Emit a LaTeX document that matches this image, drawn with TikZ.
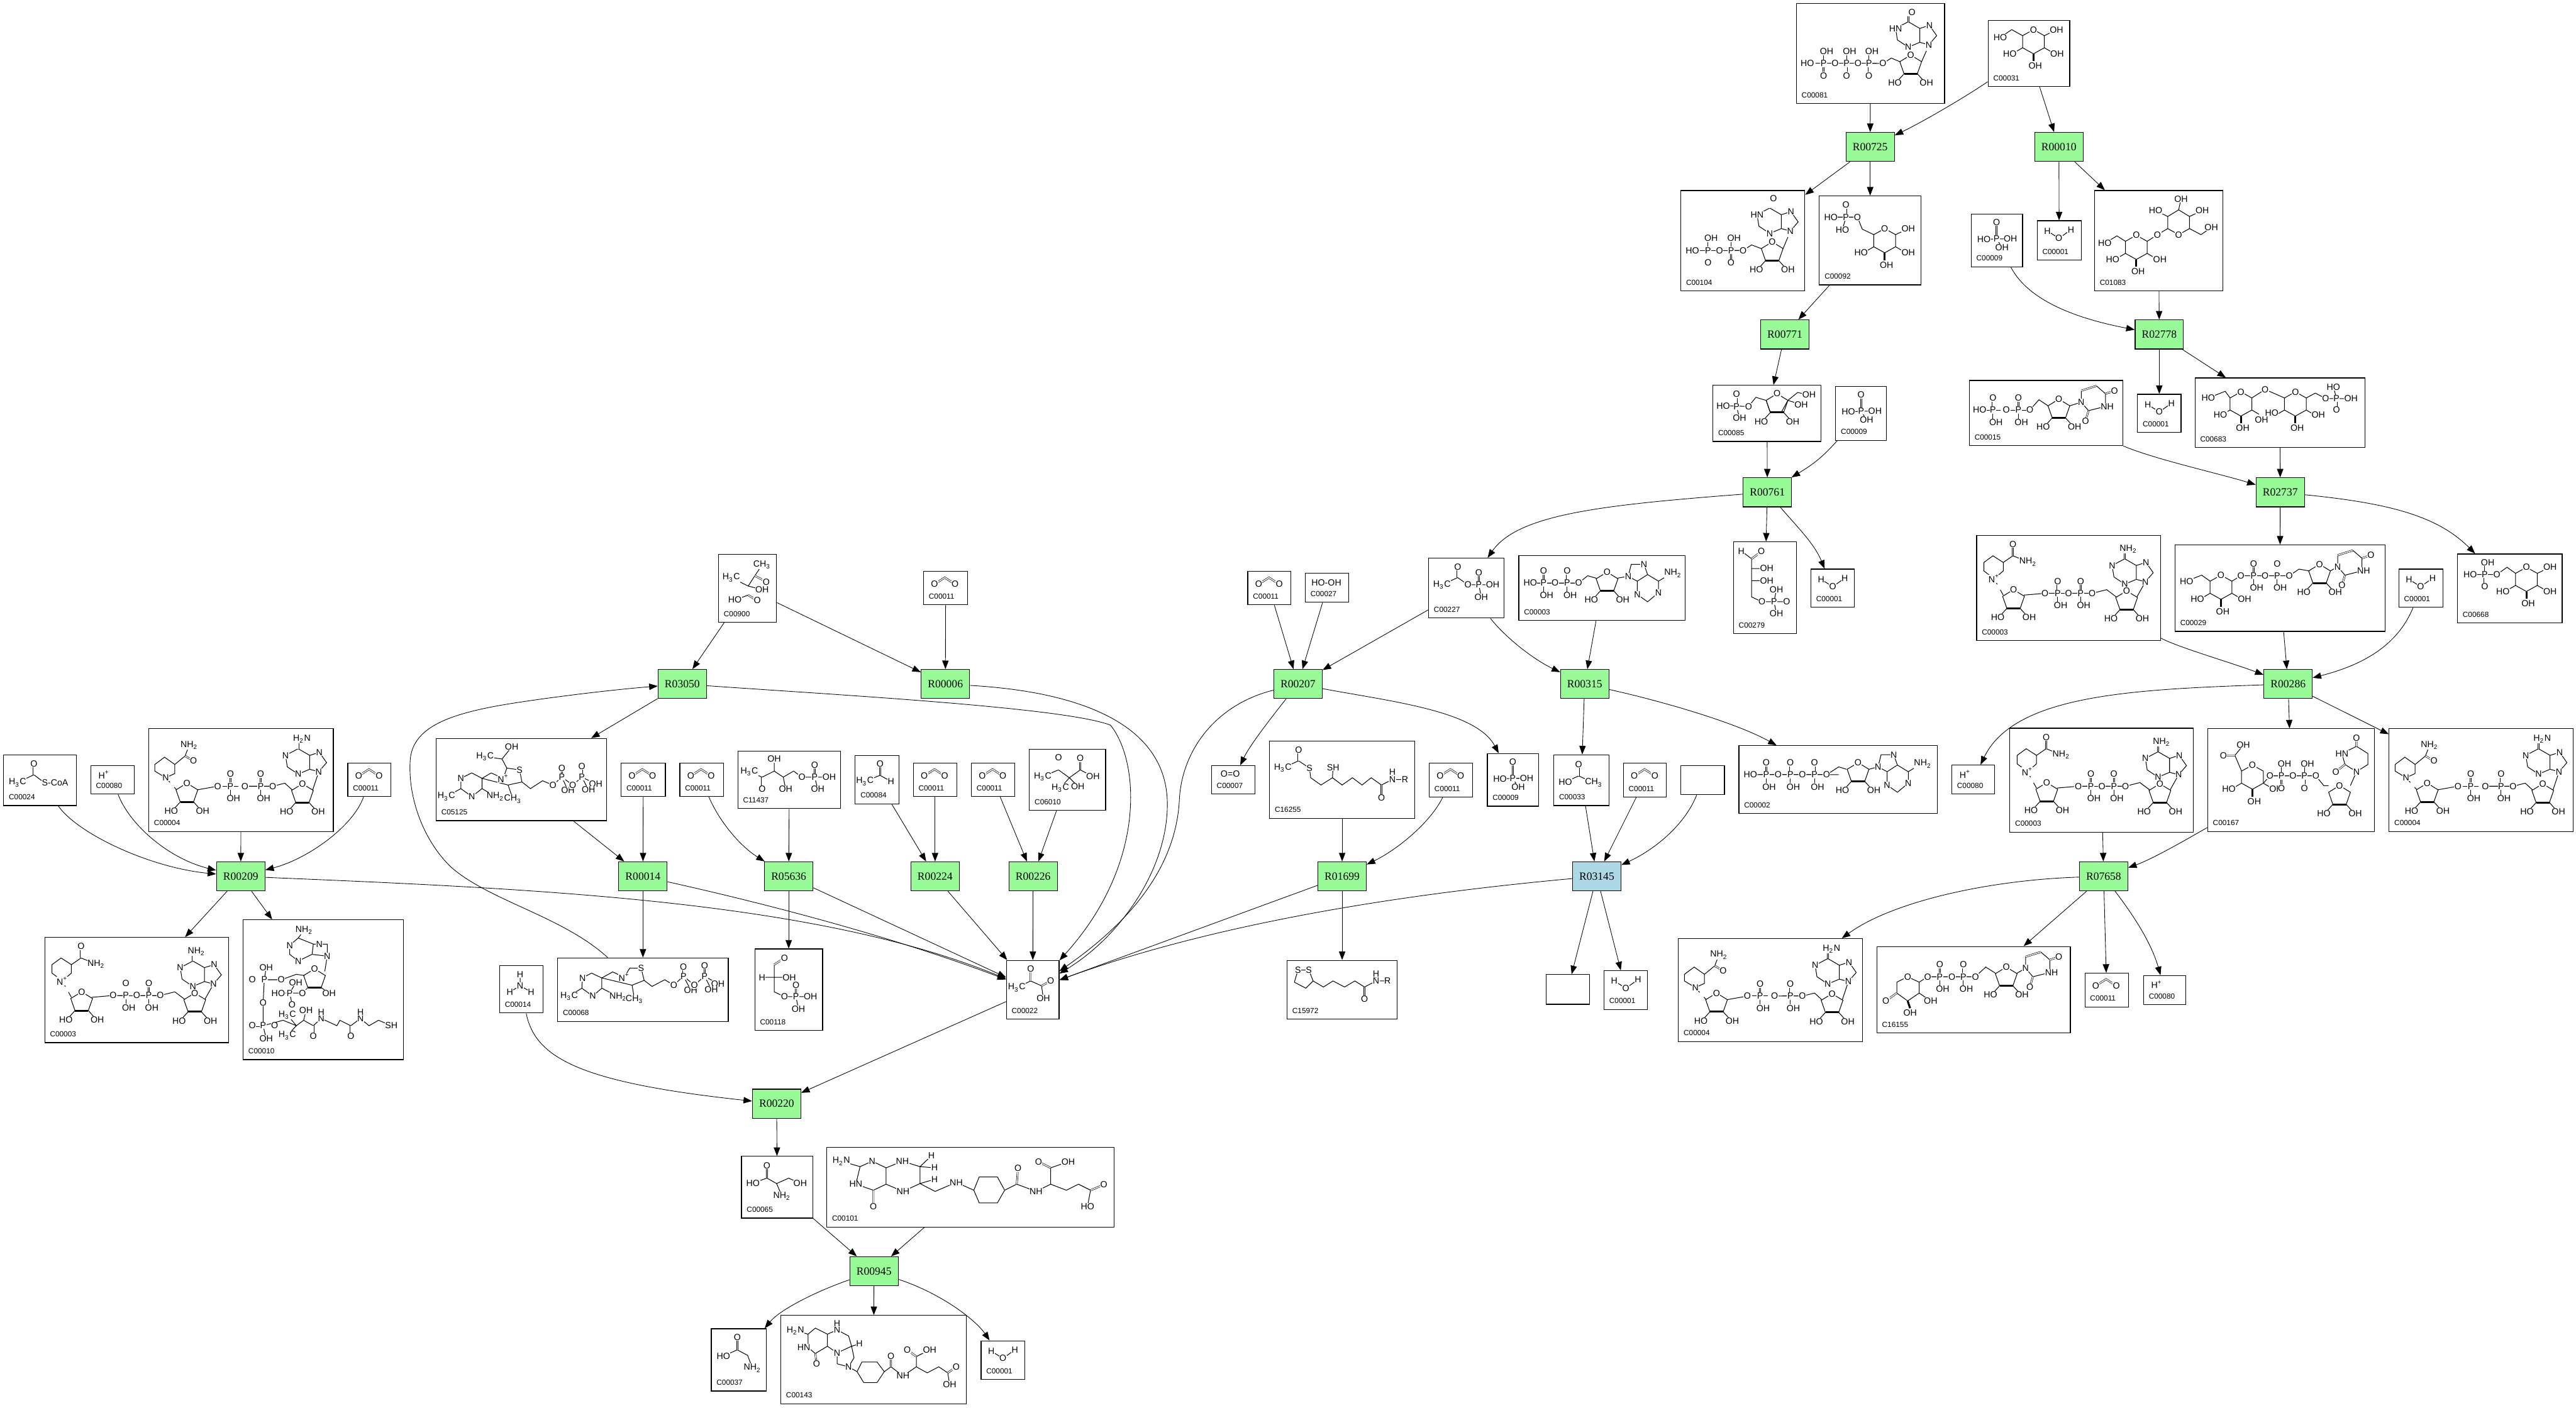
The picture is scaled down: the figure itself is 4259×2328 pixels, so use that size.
\documentclass[tikz,border=0pt]{standalone}
\usepackage{fontspec}
\setmainfont{Liberation Serif}
\newfontfamily\atomfont{Liberation Sans}
\usetikzlibrary{arrows.meta}

\newcommand{\two}{\textsubscript{2}}
\newcommand{\three}{\textsubscript{3}}
\newcommand{\atoms}[1]{\foreach \ax/\ay/\atxt in {#1}{\node[atom] (a\ax-\ay) at (\ax,\ay) {\atxt};}}

% compound box: name, left, top, right, bottom, label, structure
\newcommand{\cmpd}[7]{%
  \node[cpd, minimum width={(#4-#2)*0.01cm}, minimum height={(#5-#3)*0.01cm}] (#1) at ({(#2+#4)/2},{(#3+#5)/2}) {};
  \node[clabel] (#1l) at ({#2+8},{#5-14}) {#6};
  \pic at (#2,#3) {#7};
}
% reaction box: name, centre x, centre y
\newcommand{\reac}[3]{\node[rbox] (#1) at (#2,#3) {\MakeUppercase{#1}};}

% five ring, centre at the origin
\newcommand{\furo}[2]{\begin{scope}[shift={(#1,#2)}]
  \draw[bond] (-11,12)--(-18,-8)--(0,-19)--(18,-8)--(11,12);
  \draw[wedge] (-11,12)--(11,12);
  \atoms{0/-19/O}
\end{scope}}
\newcommand{\fur}[2]{\furo{#1}{#2}\begin{scope}[shift={(#1,#2)}]
  \draw[bond] (-11,12)--(-20,22) (11,12)--(20,22);
  \atoms{-26/27/HO,26/27/OH}
\end{scope}}
% six ring sugar, the optional list holds the two side groups
\newcommand{\pyran}[3][-39/20/HO,39/20/OH]{\begin{scope}[shift={(#2,#3)}]
  \draw[bond] (0,-20)--(18,-10)--(18,10)--(0,20)--(-18,10)--(-18,-10)--cycle (18,10)--(30,17) (-18,10)--(-30,17);
  \draw[wedge] (0,20)--(0,32);
  \atoms{0/-20/O,3/40/OH,#1}
\end{scope}}
% purine, N9 at the origin
\newcommand{\purine}[4]{\begin{scope}[shift={(#1,#2)}]
  \draw[bond] (0,0)--(13,-15)--(1,-32)--(-15,-27)--(-15,-4)--cycle (-15,-4)--(-34,4)--(-52,-8)--(-55,-27)--(-34,-38)--(-15,-27);
  \draw[dbl] (-34,-38)--(-34,-47);
  \atoms{0/0/N,1/-32/N,-34/4/N,-55/-27/#4,-28/-54/#3}
\end{scope}}
% purine drawn lying to the right of N9
\newcommand{\purinb}[2]{\begin{scope}[shift={(#1,#2)}]
  \draw[bond] (0,0)--(5,-20)--(26,-20)--(32,-3)--(15,8)--cycle (15,8)--(15,30)--(32,42)--(50,27)--(50,8)--(32,-3) (50,8)--(68,-3);
  \atoms{0/0/N,26/-20/N,15/30/N,50/27/N,74/-5/NH\two}
\end{scope}}
% uracil, N1 at the origin
\newcommand{\uracil}[2]{\begin{scope}[shift={(#1,#2)}]
  \draw[bond] (0,0)--(0,-19) (25,-27)--(40,-14)--(40,7)--(12,14)--(0,0);
  \draw[dbl] (0,-19)--(25,-27) (40,-14)--(55,-19) (12,14)--(7,31);
  \atoms{0/0/N,55/-19/O,43/7/NH,7/31/O}
\end{scope}}
% phosphorus with its two side groups, s=1: O below, s=-1: O above
\newcommand{\phos}[3]{%
  \draw[bond] (#1-13,#2)--(#1+13,#2) (#1,{#2-#3*6})--(#1,{#2-#3*14});
  \draw[dbl] (#1,{#2+#3*6})--(#1,{#2+#3*14});
  \node[atom] (p#1t) at (#1,#2) {P};
  \node[atom] (p#1o) at (#1,{#2+#3*20}) {O};
  \node[atom] (p#1h) at (#1+5,{#2-#3*20}) {OH};
}

\tikzset{
  molco/.pic={
    \draw[dbl] (18,21)--(35,10)--(52,21);
    \atoms{18/21/O,52/21/O}
  },
  molwater/.pic={
    \draw[bond] (17,17)--(36,29)--(56,15);
    \atoms{17/17/H,36/29/O,56/15/H}
  },
  molh/.pic={\atoms{22/15/H\textsuperscript{+}}},
  molpi/.pic={
    \draw[dbl] (42,14)--(42,41);
    \draw[bond] (21,42)--(42,41)--(65,41) (42,41)--(51,55);
    \atoms{42/14/O,42/41/P,21/42/HO,65/41/OH,51/55/OH}
  },
  moloo/.pic={\atoms{31/14/O=O}},
  molhooh/.pic={\atoms{35/15/HO-OH}},
  molnh/.pic={
    \draw[bond] (34,14)--(34,33)--(17,43) (34,33)--(52,43);
    \atoms{34/14/H,34/33/N,17/43/H,52/43/H}
  },
  molnad/.pic={
    \draw[bond] (29,72)--(12,59)--(12,45)--(27,34)--(44,45)--(44,59)--cycle (44,45)--(60,34)--(85,44) (78,99)--(113,96)--(134,96) (152,96)--(191,96)--(215,90)--(231,102) (265,102)--(279,77);
    \draw[dbl] (60,34)--(60,15);
    \draw[bond,dashed] (29,72)--(44,99);
    \fur{61}{109} \fur{248}{111}
    \phos{134}{96}{-1} \phos{172}{96}{-1}
    \purine{279}{77}{NH\two}{N}
    \atoms{29/72/N\textsuperscript{+},60/15/O,85/44/NH\two,113/96/O,152/96/O,191/96/O}
  },
  molnadh/.pic={
    \draw[bond] (28,81)--(10,70)--(10,59)--(26,47)--(43,59)--(43,74)--cycle (43,59)--(60,45)--(67,27) (80,101)--(114,95) (159,95)--(205,95)--(225,90)--(237,101) (271,101)--(281,71);
    \draw[dbl] (60,45)--(74,53);
    \draw[bond,dashed] (28,81)--(46,101);
    \fur{63}{109} \fur{254}{110}
    \phos{135}{95}{-1} \phos{185}{95}{-1}
    \purine{281}{71}{H\two N}{N}
    \atoms{28/81/N,74/53/O,67/27/NH\two,114/95/O,159/95/O,205/95/O}
  },
  molatp/.pic={
    \draw[bond] (19,48)--(165,48) (145,48)--(165,35)--(178,39);
    \draw[bond] (215,39)--(230,35);
    \fur{197}{47}
    \phos{45}{48}{-1} \phos{85}{48}{-1} \phos{125}{48}{-1}
    \purinb{230}{35}
    \atoms{19/48/HO,65/48/O,105/48/O,145/48/O}
  },
  moladp/.pic={
    \draw[bond] (19,45)--(99,45)--(114,33)--(128,37) (163,37)--(181,34);
    \fur{146}{46}
    \phos{41}{45}{-1} \phos{80}{45}{-1}
    \purinb{181}{34}
    \atoms{19/45/HO,60/45/O,99/45/O}
  },
  molino/.pic={
    \draw[bond] (125,99)--(143,99)--(157,90)--(171,96) (207,96)--(215,78);
    \fur{189}{104}
    \phos{45}{99}{1} \phos{83}{99}{1} \phos{120}{99}{1}
    \purine{219}{68}{O}{HN}
    \atoms{18/99/HO,64/99/O,102/99/O,143/99/O}
  },
  molidp/.pic={
    \draw[bond] (85,99)--(103,99)--(117,90)--(133,96) (169,96)--(177,77);
    \fur{151}{104}
    \phos{45}{99}{1} \phos{83}{99}{1}
    \purine{181}{67}{O}{HN}
    \atoms{19/99/HO,64/99/O,103/99/O}
  },
  molglc/.pic={
    \draw[bond] (57,25)--(39,15)--(20,28) (93,25)--(113,15);
    \pyran{75}{35}
    \atoms{20/28/HO,113/15/OH}
  },
  molgsp/.pic={
    \draw[bond] (90,64)--(71,55)--(63,35)--(19,35) (44,35)--(38,56) (126,64)--(147,54);
    \draw[dbl] (44,35)--(44,15);
    \pyran{108}{74}
    \atoms{63/35/O,44/35/P,44/15/O,19/35/HO,38/56/HO,147/54/OH}
  },
  moltre/.pic={
    \draw[bond] (139,32)--(157,43)--(157,63)--(139,73)--(121,63)--(121,43)--cycle (157,63)--(176,73)--(193,61) (121,63)--(104,73)--(87,84) (51,84)--(37,75)--(17,87) (157,43)--(178,33) (121,43)--(101,33) (139,32)--(143,14);
    \pyran{69}{94}
    \atoms{139/73/O,104/73/O,17/87/HO,143/14/OH,101/33/HO,178/33/OH,193/61/OH}
  },
  molfsp/.pic={
    \draw[bond] (17,34)--(59,35)--(71,20)--(88,25) (39,35)--(44,54) (124,25)--(146,32) (124,25)--(140,12)--(159,16);
    \draw[bond] (88,25)--(94,43) (124,25)--(114,43);
    \draw[dbl] (39,35)--(39,15);
    \fur{106}{33}
    \atoms{59/35/O,39/35/P,17/34/HO,39/15/O,44/54/OH,146/32/OH,159/16/OH}
  },
  moludp/.pic={
    \draw[bond] (100,49)--(115,32)--(130,42) (166,42)--(185,36);
    \fur{148}{50}
    \phos{39}{49}{-1} \phos{81}{49}{-1}
    \uracil{185}{36}
    \atoms{17/49/HO,61/49/O,100/49/O}
  },
  moltsp/.pic={
    \draw[bond] (58,33)--(50,22)--(22,33) (94,33)--(116,19)--(148,33) (184,33)--(199,25)--(216,34)--(258,34) (234,34)--(229,15);
    \draw[dbl] (234,34)--(234,53);
    \pyran[-34/18/HO,34/26/OH]{76}{43} \pyran[-39/15/HO,38/18/OH]{166}{43}
    \atoms{22/33/HO,116/19/O,216/34/O,234/34/P,258/34/OH,229/15/HO,234/53/O}
  },
  molugl/.pic={
    \draw[bond] (44,50)--(19,60) (58,60)--(44,50) (94,60)--(109,51)--(189,51)--(205,40)--(222,43) (257,43)--(269,36);
    \fur{239}{51} \pyran{76}{70}
    \phos{130}{51}{-1} \phos{169}{51}{-1}
    \uracil{269}{36}
    \atoms{19/60/HO,109/51/O,149/51/O,189/51/O}
  },
  molgpb/.pic={
    \draw[bond] (96,32)--(82,22)--(65,34)--(21,34) (132,32)--(153,22);
    \pyran{114}{42}
    \phos{45}{34}{1}
    \atoms{65/34/O,21/34/HO,153/22/OH}
  },
  molugc/.pic={
    \draw[bond] (56,70)--(45,44)--(59,27) (92,90)--(103,78)--(179,78)--(192,94)--(200,94) (236,94)--(246,71) (246,71)--(265,59)--(265,41)--(246,29)--(222,41)--(227,59)--cycle;
    \draw[dbl] (45,44)--(26,44) (246,29)--(246,15) (227,59)--(212,71);
    \fur{218}{113} \pyran{74}{80}
    \phos{122}{78}{1} \phos{160}{78}{1}
    \atoms{26/44/O,59/27/OH,103/78/O,141/78/O,179/78/O,246/71/N,222/41/HN,246/15/O,212/71/O}
  },
  molukp/.pic={
    \draw[bond] (51,50)--(70,59)--(70,77)--(51,90)--(33,77)--(33,59)--cycle (70,77)--(89,90) (70,59)--(84,50)--(163,50)--(180,34)--(196,44) (232,44)--(246,36);
    \draw[dbl] (33,77)--(15,90);
    \draw[wedge] (51,90)--(55,102);
    \fur{214}{53}
    \phos{104}{50}{-1} \phos{143}{50}{-1}
    \uracil{246}{36}
    \atoms{51/50/O,15/90/O,89/90/OH,55/110/OH,84/50/O,124/50/O,163/50/O}
  },
  moleph/.pic={
    \draw[bond] (13,15)--(30,28)--(30,91)--(47,99)--(88,99) (30,44)--(55,44) (30,64)--(55,64) (67,99)--(71,79) (67,99)--(71,118);
    \draw[dbl] (30,28)--(46,16);
    \atoms{13/15/H,46/16/O,55/44/OH,55/64/OH,47/99/O,67/99/P,88/99/O,71/79/OH,71/118/OH}
  },
  molacp/.pic={
    \draw[bond] (22,44)--(48,32)--(65,44)--(106,44) (83,44)--(87,64);
    \draw[dbl] (48,32)--(48,14) (83,44)--(83,24);
    \atoms{22/44/H\three C,48/14/O,65/44/O,83/44/P,83/24/O,106/44/OH,87/64/OH}
  },
  moldht/.pic={
    \draw[bond] (22,45)--(48,33)--(66,45)--(68,61)--(85,73)--(104,61)--(120,73)--(137,61)--(153,73)--(168,61)--(185,73)--(203,64)--(224,64) (104,61)--(105,44) (203,64)--(203,51);
    \draw[dbl] (48,33)--(48,15) (185,73)--(185,94);
    \atoms{22/45/H\three C,48/15/O,66/45/S,105/44/SH,185/94/O,203/64/N,203/51/H,224/64/R}
  },
  mollip/.pic={
    \draw[bond] (18,16)--(36,16)--(43,34)--(31,46)--(12,36)--cycle (43,34)--(60,44)--(76,34)--(95,44)--(112,34)--(128,44)--(147,34)--(166,34) (147,34)--(147,22);
    \draw[dbl] (128,44)--(128,64);
    \atoms{18/16/S,36/16/S,128/64/O,147/34/N,147/22/H,166/34/R}
  },
  molace/.pic={
    \draw[bond] (19,45)--(41,35)--(66,46);
    \draw[dbl] (41,16)--(41,35);
    \atoms{41/16/O,19/45/HO,66/46/CH\three}
  },
  molacoa/.pic={
    \draw[bond] (23,46)--(50,33)--(67,46)--(85,46);
    \draw[dbl] (50,33)--(50,15);
    \atoms{23/46/H\three C,50/15/O,85/46/S-CoA}
  },
  molcoa/.pic={
    \draw[bond] (77,42)--(91,30)--(116,40)--(114,57)--(91,68)--(77,57)--cycle (116,40)--(126,40)--(139,40)--(139,60)--(114,57) (91,30)--(101,17) (139,60)--(135,85) (101,92)--(88,90)--(63,99)--(35,99)--(38,79) (35,99)--(33,137)--(33,175)--(38,196) (107,112)--(98,121)--(58,121) (129,112)--(142,121) (77,121)--(81,140) (77,121)--(87,104) (33,175)--(66,166)--(88,175)--(100,166)--(116,175)--(129,163)--(155,175)--(160,166)--(178,175)--(194,163)--(208,175)--(224,166)--(245,175) (88,175)--(73,157) (88,175)--(73,191) (100,166)--(104,150) (129,163)--(129,153) (194,163)--(194,153);
    \draw[dbl] (15,99)--(35,99) (15,175)--(33,175) (116,175)--(116,192) (178,175)--(178,192);
    \furo{118}{100}
    \atoms{77/42/N,126/40/N,139/60/N,91/68/N,101/17/NH\two,63/99/O,15/99/O,35/99/P,38/79/OH,33/137/O,98/121/O,77/121/P,58/121/HO,87/104/OH,142/121/OH,81/140/O,15/175/O,33/175/P,52/175/O,38/196/OH,73/157/H\three C,73/191/H\three C,104/150/OH,116/192/O,129/163/N,129/153/H,178/192/O,194/163/N,194/153/H,245/175/SH}
  },
  molace2/.pic={
    \draw[bond] (21,38)--(49,52)--(60,35)--(72,17) (49,52)--(72,58) (27,75)--(49,67)--(64,76);
    \draw[dbl] (60,35)--(79,45) (49,67)--(64,76);
    \atoms{21/38/H\three C,72/17/CH\three,79/45/O,72/58/OH,27/75/HO,64/76/O}
  },
  moltpp/.pic={
    \draw[bond] (41,66)--(59,57)--(76,66)--(76,83)--(59,96)--(41,83)--cycle (41,83)--(17,96) (76,83)--(98,96) (76,66)--(91,57)--(111,66)--(117,49)--(138,52)--(142,72)--(119,77)--cycle (117,49)--(109,34)--(81,30) (109,34)--(125,14) (119,77)--(127,100) (142,72)--(156,83)--(176,70)--(193,77)--(208,64)--(226,77)--(241,64)--(264,75) (208,64)--(218,86) (241,64)--(252,85);
    \draw[dbl] (208,64)--(208,49) (241,64)--(241,46);
    \atoms{41/66/N,59/96/N,17/96/H\three C,98/96/NH\two,111/66/N\textsuperscript{+},138/52/S,81/30/H\three C,125/14/OH,127/100/CH\three,193/77/O,208/64/P,208/49/O,218/86/OH,226/77/O,241/64/P,241/46/O,264/75/OH,252/85/OH}
  },
  moltpb/.pic={
    \draw[bond] (41,33)--(56,25)--(73,33)--(73,50)--(58,63)--(40,50)--cycle (40,50)--(19,63) (73,50)--(100,64) (73,33)--(91,23)--(110,32)--(119,17)--(138,17)--(143,37)--(123,45)--cycle (123,45)--(127,68) (143,37)--(156,47)--(177,36)--(192,45)--(208,30)--(226,45)--(243,30)--(265,43) (208,30)--(220,53) (243,30)--(254,52);
    \draw[dbl] (208,30)--(208,15) (243,30)--(243,13);
    \atoms{41/33/N,58/63/N,19/63/H\three C,100/64/NH\two,110/32/N\textsuperscript{+},138/17/S,127/68/CH\three,192/45/O,208/30/P,208/15/O,220/53/OH,226/45/O,243/30/P,243/13/O,265/43/OH,254/52/OH}
  },
  moldxp/.pic={
    \draw[bond] (19,34)--(40,43)--(60,33)--(75,43)--(92,33)--(106,43)--(151,43) (60,33)--(60,13) (75,43)--(79,63) (127,43)--(132,63);
    \draw[dbl] (40,43)--(40,63) (127,43)--(127,23);
    \atoms{19/34/H\three C,40/63/O,60/13/OH,79/63/OH,106/43/O,127/43/P,127/23/O,151/43/OH,132/63/OH}
  },
  molald/.pic={
    \draw[bond] (16,43)--(41,33)--(59,43);
    \draw[dbl] (41,14)--(41,33);
    \atoms{41/14/O,16/43/H\three C,59/43/H}
  },
  molahb/.pic={
    \draw[bond] (22,45)--(48,34)--(66,47)--(84,34)--(105,45) (66,47)--(51,64) (66,47)--(80,61);
    \draw[dbl] (48,34)--(48,14) (84,34)--(84,15);
    \atoms{22/45/H\three C,48/14/O,84/15/O,105/45/OH,51/64/H\three C,80/61/OH}
  },
  molgap/.pic={
    \draw[bond] (32,26)--(32,71)--(49,79)--(92,79) (12,47)--(57,47) (68,79)--(72,99);
    \draw[dbl] (49,15)--(32,26) (68,79)--(68,60);
    \atoms{49/15/O,12/47/H,57/47/OH,49/79/O,68/79/P,68/60/O,92/79/OH,72/99/OH}
  },
  molpyr/.pic={
    \draw[bond] (17,45)--(40,34)--(58,42)--(61,63);
    \draw[dbl] (40,14)--(40,34) (58,42)--(73,34);
    \atoms{40/14/O,17/45/H\three C,73/34/O,61/63/OH}
  },
  molser/.pic={
    \draw[bond] (19,44)--(42,36)--(58,45)--(78,36)--(97,45) (58,45)--(67,66);
    \draw[dbl] (42,15)--(42,36);
    \atoms{42/15/O,19/44/HO,67/66/NH\two,97/45/OH}
  },
  molgly/.pic={
    \draw[bond] (20,45)--(43,35)--(60,44)--(68,65);
    \draw[dbl] (43,14)--(43,35);
    \atoms{43/14/O,20/45/HO,68/65/NH\two}
  },
  molthf/.pic={
    \draw[bond] (24,23)--(55,32)--(75,23)--(98,34)--(98,61)--(77,71)--(48,61)--(55,32) (98,34)--(125,23)--(154,32)--(154,60)--(126,73)--(98,61) (154,32)--(173,14) (154,32)--(178,34) (154,60)--(178,53) (154,60)--(179,73)--(214,58)--(243,71)--(252,49)--(282,49)--(294,71)--(282,92)--(252,92)--(243,71) (294,71)--(314,61)--(346,73)--(370,61)--(370,34)--(399,24) (370,61)--(396,71)--(416,61)--(436,71)--(431,98);
    \draw[dbl] (77,71)--(77,98) (314,61)--(316,35) (370,34)--(350,24) (436,71)--(458,62);
    \atoms{24/23/H\two N,75/23/N,125/23/NH,173/14/H,178/34/H,178/53/H,126/73/NH,48/61/HN,77/98/O,214/58/NH,316/35/O,346/73/NH,350/24/O,399/24/OH,458/62/O,431/98/HO}
  },
  molmth/.pic={
    \draw[bond] (24,25)--(45,31)--(57,21)--(77,31)--(93,24)--(112,34)--(117,51)--(93,62)--(77,51)--(77,31) (45,31)--(45,53)--(57,63)--(77,51) (93,62)--(93,80)--(112,85)--(121,70)--(117,51) (117,51)--(130,47) (112,85)--(126,93)--(134,77)--(159,77)--(171,93)--(159,111)--(137,111)--(126,93) (171,93)--(182,85)--(202,100)--(224,85)--(224,68)--(246,57) (224,85)--(242,95)--(261,85)--(276,95)--(279,114);
    \draw[dbl] (57,63)--(59,80) (182,85)--(182,67) (224,68)--(209,57) (276,95)--(290,85);
    \atoms{24/25/H\two N,38/53/HN,93/24/N,93/13/H,130/47/H,93/62/N,112/85/N,59/80/O,182/67/O,202/100/NH,209/57/O,246/57/OH,290/85/O,279/114/OH}
  },
  bond/.style={line width=0.3pt},
  dbl/.style={double, double distance=0.45pt, line width=0.2pt},
  wedge/.style={line width=0.9pt},
  atom/.style={font=\atomfont\fontsize{4.2}{4.2}\selectfont, fill=white, inner sep=0.15pt},
}

\begin{document}
\begin{tikzpicture}[x=0.01cm, y=-0.01cm,
    cpd/.style={rectangle, draw, fill=white, line width=0.35pt, inner sep=0pt},
    clabel/.style={anchor=west, font=\atomfont\fontsize{3.5}{3.5}\selectfont, inner sep=0pt},
    rbox/.style={rectangle, draw, fill=rgreen, line width=0.35pt, minimum width=0.8cm, minimum height=0.48cm, inner sep=0pt, font=\fontsize{5.2}{5.2}\selectfont},
    arrow/.style={-{Triangle[length=4pt,width=3pt]}, line width=0.25pt}
]
    \definecolor{rgreen}{HTML}{98FB98}
    \definecolor{rblue}{HTML}{ADD8E6}
    \useasboundingbox (0,0) rectangle (4259,2328);

    % top right
    \cmpd{c00081}{2970}{6}{3215}{171}{C00081}{molino}
    \cmpd{c00031}{3287}{34}{3422}{143}{C00031}{molglc}
    \reac{r00725}{3092}{243}
    \reac{r00010}{3404}{243}
    \cmpd{c00104}{2779}{315}{2984}{481}{C00104}{molidp}
    \cmpd{c00092}{3008}{324}{3176}{471}{C00092}{molgsp}
    \cmpd{c00009a}{3259}{354}{3344}{441}{C00009}{molpi}
    \cmpd{c00001a}{3368}{365}{3441}{430}{C00001}{molwater}
    \cmpd{c01083}{3463}{315}{3675}{481}{C01083}{moltre}
    \reac{r00771}{2951}{553}
    \reac{r02778}{3570}{553}
    \cmpd{c00085}{2832}{637}{3011}{730}{C00085}{molfsp}
    \cmpd{c00009b}{3035}{639}{3119}{728}{C00009}{molpi}
    \cmpd{c00015}{3256}{629}{3510}{737}{C00015}{moludp}
    \cmpd{c00001b}{3534}{652}{3606}{715}{C00001}{molwater}
    \cmpd{c00683}{3629}{625}{3910}{740}{C00683}{moltsp}
    \reac{r00761}{2922}{814}
    \reac{r02737}{3770}{814}
    \cmpd{c00279}{2866}{896}{2970}{1048}{C00279}{moleph}
    \cmpd{c00001c}{2994}{941}{3066}{1004}{C00001}{molwater}
    \cmpd{c00003a}{3268}{885}{3572}{1059}{C00003}{molnad}
    \cmpd{c00029}{3596}{901}{3943}{1044}{C00029}{molugl}
    \cmpd{c00001d}{3966}{941}{4039}{1004}{C00001}{molwater}
    \cmpd{c00668}{4063}{916}{4236}{1030}{C00668}{molgpb}
    \reac{r00286}{3783}{1131}
    \cmpd{c00002}{2875}{1233}{3203}{1345}{C00002}{molatp}
    \cmpd{c00080a}{3227}{1265}{3298}{1313}{C00080}{molh}
    \cmpd{c00003b}{3323}{1204}{3626}{1376}{C00003}{molnad}
    \cmpd{c00167}{3650}{1205}{3926}{1375}{C00167}{molugc}
    \cmpd{c00004a}{3950}{1205}{4254}{1375}{C00004}{molnadh}
    \reac{r07658}{3478}{1449}
    \cmpd{c00004b}{2775}{1552}{3079}{1722}{C00004}{molnadh}
    \cmpd{c16155}{3103}{1565}{3423}{1708}{C16155}{molukp}
    \cmpd{c00011a}{3447}{1609}{3519}{1665}{C00011}{molco}
    \cmpd{c00080b}{3544}{1613}{3614}{1661}{C00080}{molh}

    % middle
    \cmpd{c00011b}{2063}{945}{2134}{1000}{C00011}{molco}
    \cmpd{c00027}{2158}{948}{2230}{996}{C00027}{molhooh}
    \cmpd{c00227}{2362}{923}{2487}{1022}{C00227}{molacp}
    \cmpd{c00003c}{2511}{919}{2786}{1026}{C00003}{moladp}
    \reac{r00207}{2146}{1131}
    \reac{r00315}{2620}{1131}
    \cmpd{c00007}{2003}{1266}{2075}{1313}{C00007}{moloo}
    \cmpd{c16255}{2099}{1225}{2339}{1353}{C16255}{moldht}
    \cmpd{c00011c}{2363}{1262}{2435}{1318}{C00011}{molco}
    \cmpd{c00009c}{2459}{1246}{2544}{1333}{C00009}{molpi}
    \cmpd{c00033}{2569}{1248}{2660}{1332}{C00033}{molace}
    \cmpd{c00011d}{2684}{1262}{2755}{1318}{C00011}{molco}
    \node[cpd, minimum width=0.72cm, minimum height=0.48cm] (blanka) at (2815,1290) {};
    \reac{r01699}{2219}{1449}
    \node[rbox, fill=rblue] (r03145) at (2640,1449) {R03145};
    \cmpd{c15972}{2128}{1588}{2310}{1685}{C15972}{mollip}
    \node[cpd, minimum width=0.72cm, minimum height=0.49cm] (blankb) at (2592,1636) {};
    \cmpd{c00001e}{2652}{1605}{2724}{1669}{C00001}{molwater}

    % left
    \cmpd{c00024}{6}{1248}{126}{1332}{C00024}{molacoa}
    \cmpd{c00080c}{150}{1266}{222}{1313}{C00080}{molh}
    \cmpd{c00004c}{246}{1205}{551}{1375}{C00004}{molnadh}
    \cmpd{c00011e}{575}{1262}{646}{1317}{C00011}{molco}
    \reac{r00209}{398}{1449}
    \cmpd{c00003d}{74}{1550}{378}{1724}{C00003}{molnad}
    \cmpd{c00010}{402}{1521}{667}{1752}{C00010}{molcoa}
    \cmpd{c00900}{1188}{917}{1284}{1029}{C00900}{molace2}
    \cmpd{c00011f}{1527}{945}{1600}{1000}{C00011}{molco}
    \reac{r03050}{1128}{1131}
    \reac{r00006}{1563}{1131}
    \cmpd{c05125}{721}{1221}{1003}{1357}{C05125}{moltpp}
    \cmpd{c00011g}{1027}{1262}{1100}{1317}{C00011}{molco}
    \cmpd{c00011h}{1124}{1262}{1196}{1317}{C00011}{molco}
    \cmpd{c11437}{1220}{1242}{1390}{1337}{C11437}{moldxp}
    \cmpd{c00084}{1414}{1249}{1486}{1329}{C00084}{molald}
    \cmpd{c00011i}{1510}{1262}{1582}{1317}{C00011}{molco}
    \cmpd{c00011j}{1606}{1262}{1678}{1317}{C00011}{molco}
    \cmpd{c06010}{1702}{1239}{1828}{1340}{C06010}{molahb}
    \reac{r00014}{1063}{1449}
    \reac{r05636}{1304}{1449}
    \reac{r00224}{1546}{1449}
    \reac{r00226}{1708}{1449}
    \cmpd{c00014}{826}{1597}{898}{1675}{C00014}{molnh}
    \cmpd{c00068}{922}{1584}{1204}{1689}{C00068}{moltpb}
    \cmpd{c00118}{1248}{1569}{1360}{1704}{C00118}{molgap}
    \cmpd{c00022}{1664}{1588}{1751}{1685}{C00022}{molpyr}

    % bottom
    \reac{r00220}{1284}{1825}
    \cmpd{c00065}{1226}{1912}{1344}{2014}{C00065}{molser}
    \cmpd{c00101}{1367}{1897}{1842}{2029}{C00101}{molthf}
    \reac{r00945}{1445}{2102}
    \cmpd{c00037}{1176}{2197}{1267}{2300}{C00037}{molgly}
    \cmpd{c00143}{1291}{2175}{1598}{2321}{C00143}{molmth}
    \cmpd{c00001f}{1622}{2217}{1694}{2281}{C00001}{molwater}

    % reactions of the top right
    \draw[arrow] (c00081) -- (r00725);
    \draw[arrow] (c00031) .. controls (3247,162) and (3176,203) .. (r00725);
    \draw[arrow] (c00031) -- (r00010);
    \draw[arrow] (r00725) -- (c00104);
    \draw[arrow] (r00725) -- (c00092);
    \draw[arrow] (r00010) -- (c00001a);
    \draw[arrow] (r00010) -- (c01083);
    \draw[arrow] (c00092) -- (r00771);
    \draw[arrow] (c00009a) .. controls (3355,500) and (3440,528) .. (r02778);
    \draw[arrow] (c01083) -- (r02778);
    \draw[arrow] (r00771) -- (c00085);
    \draw[arrow] (r02778) -- (c00001b);
    \draw[arrow] (r02778) -- (c00683);
    \draw[arrow] (c00085) -- (r00761);
    \draw[arrow] (c00009b) .. controls (3010,760) and (2992,771) .. (r00761);
    \draw[arrow] (c00015) .. controls (3561,759) and (3669,783) .. (r02737);
    \draw[arrow] (c00683) -- (r02737);
    \draw[arrow] (r00761) .. controls (2650,835) and (2510,850) .. (c00227);
    \draw[arrow] (r00761) -- (c00279);
    \draw[arrow] (r00761) .. controls (2975,875) and (3000,900) .. (c00001c);
    \draw[arrow] (c00003a) .. controls (3600,1070) and (3690,1096) .. (r00286);
    \draw[arrow] (c00029) -- (r00286);
    \draw[arrow] (c00001d) .. controls (3964,1068) and (3905,1100) .. (r00286);
    \draw[arrow] (r02737) -- (c00029);
    \draw[arrow] (r02737) .. controls (3950,832) and (4030,853) .. (c00668);
    \draw[arrow] (r00286) .. controls (3520,1140) and (3330,1150) .. (c00080a);
    \draw[arrow] (r00286) -- (c00167);
    \draw[arrow] (r00286) -- (c00004a);
    \draw[arrow] (c00003b) -- (r07658);
    \draw[arrow] (c00167) .. controls (3620,1385) and (3560,1420) .. (r07658);
    \draw[arrow] (r07658) .. controls (3290,1455) and (3130,1490) .. (c00004b);
    \draw[arrow] (r07658) -- (c16155);
    \draw[arrow] (r07658) -- (c00011a);
    \draw[arrow] (r07658) .. controls (3540,1530) and (3560,1570) .. (c00080b);

    % reactions of the middle
    \draw[arrow] (c00011b) -- (r00207);
    \draw[arrow] (c00027) -- (r00207);
    \draw[arrow] (c00227) -- (r00207);
    \draw[arrow] (c00227) .. controls (2490,1055) and (2535,1090) .. (r00315);
    \draw[arrow] (c00003c) -- (r00315);
    \draw[arrow] (r00207) .. controls (2010,1165) and (1955,1240) .. (1950,1320) .. controls (1945,1440) and (1860,1530) .. (c00022);
    \draw[arrow] (r00207) .. controls (2095,1195) and (2065,1235) .. (c00007);
    \draw[arrow] (r00207) .. controls (2300,1160) and (2440,1175) .. (c00009c);
    \draw[arrow] (r00315) -- (c00033);
    \draw[arrow] (r00315) .. controls (2750,1160) and (2870,1195) .. (c00002);
    \draw[arrow] (c16255) -- (r01699);
    \draw[arrow] (c00011c) .. controls (2365,1360) and (2310,1405) .. (r01699);
    \draw[arrow] (c00033) -- (r03145);
    \draw[arrow] (c00011d) -- (r03145);
    \draw[arrow] (blanka) .. controls (2785,1365) and (2735,1405) .. (r03145);
    \draw[arrow] (r01699) -- (c00022);
    \draw[arrow] (r03145) .. controls (2300,1480) and (2000,1530) .. (c00022);
    \draw[arrow] (r01699) -- (c15972);
    \draw[arrow] (r03145) -- (blankb);
    \draw[arrow] (r03145) -- (c00001e);

    % reactions of the left
    \draw[arrow] (c00024) .. controls (130,1380) and (250,1435) .. (r00209);
    \draw[arrow] (c00080c) .. controls (215,1365) and (280,1420) .. (r00209);
    \draw[arrow] (c00004c) -- (r00209);
    \draw[arrow] (c00011e) .. controls (585,1365) and (510,1420) .. (r00209);
    \draw[arrow] (r00209) -- (c00003d);
    \draw[arrow] (r00209) -- (c00010);
    \draw[arrow] (r00209) .. controls (900,1470) and (1350,1490) .. (c00022);
    \draw[arrow] (c00900) -- (r03050);
    \draw[arrow] (c00900) -- (r00006);
    \draw[arrow] (c00011f) -- (r00006);
    \draw[arrow] (c00068) .. controls (930,1515) and (810,1490) .. (746,1434) .. controls (700,1390) and (675,1320) .. (678,1260) .. controls (680,1195) and (760,1175) .. (880,1158) .. controls (950,1148) and (1020,1140) .. (r03050);
    \draw[arrow] (r03050) -- (c05125);
    \draw[arrow] (r03050) .. controls (1400,1150) and (1760,1170) .. (1836,1199) .. controls (1885,1260) and (1895,1430) .. (c00022);
    \draw[arrow] (r00006) .. controls (1720,1140) and (1930,1170) .. (1930,1330) .. controls (1930,1440) and (1850,1550) .. (c00022);
    \draw[arrow] (r00014) .. controls (1270,1495) and (1480,1550) .. (c00022);
    \draw[arrow] (r05636) -- (c00022);
    \draw[arrow] (r00014) -- (c00068);
    \draw[arrow] (r05636) -- (c00118);
    \draw[arrow] (r00224) -- (c00022);
    \draw[arrow] (r00226) -- (c00022);
    \draw[arrow] (c00011g) -- (r00014);
    \draw[arrow] (c05125) -- (r00014);
    \draw[arrow] (c00011h) .. controls (1190,1360) and (1225,1400) .. (r05636);
    \draw[arrow] (c11437) -- (r05636);
    \draw[arrow] (c00084) -- (r00224);
    \draw[arrow] (c00011i) -- (r00224);
    \draw[arrow] (c00011j) -- (r00226);
    \draw[arrow] (c06010) -- (r00226);

    % reactions of the bottom
    \draw[arrow] (c00022) -- (r00220);
    \draw[arrow] (c00014) .. controls (885,1750) and (960,1790) .. (r00220);
    \draw[arrow] (r00220) -- (c00065);
    \draw[arrow] (c00065) -- (r00945);
    \draw[arrow] (c00101) -- (r00945);
    \draw[arrow] (r00945) .. controls (1350,2135) and (1290,2165) .. (c00037);
    \draw[arrow] (r00945) -- (c00143);
    \draw[arrow] (r00945) .. controls (1560,2140) and (1615,2185) .. (c00001f);
\end{tikzpicture}
\end{document}
